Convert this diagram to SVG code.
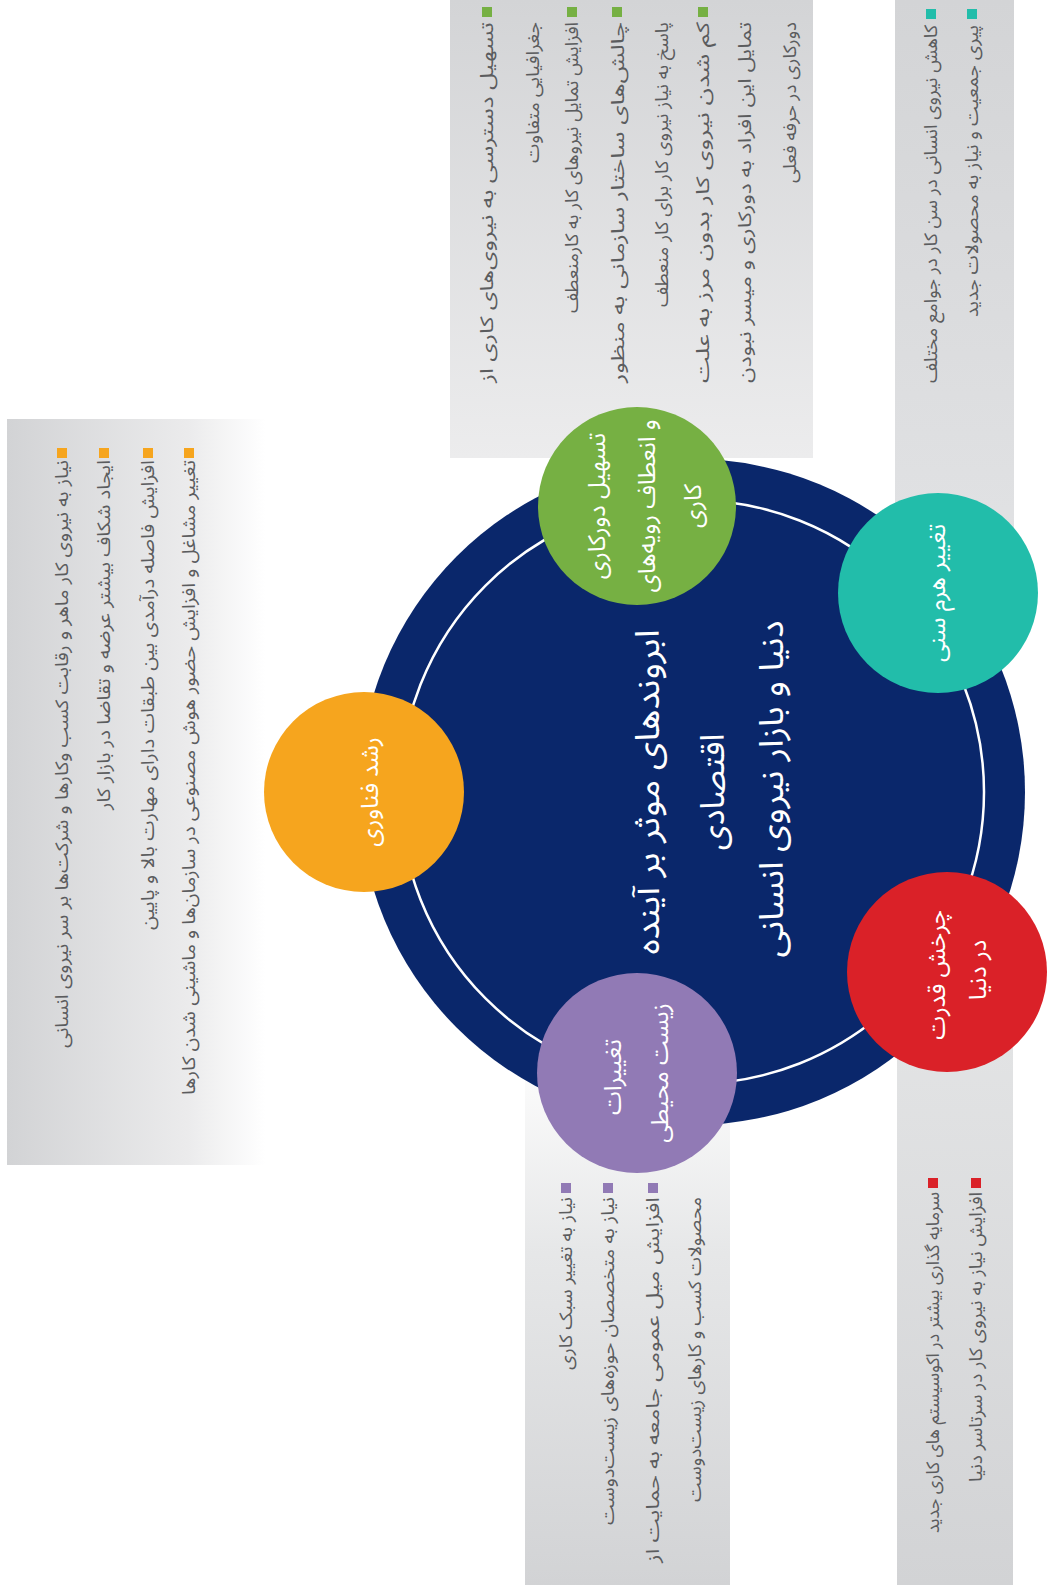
<svg xmlns="http://www.w3.org/2000/svg" width="1047" height="1595" viewBox="0 0 1047 1595">
<defs>
<linearGradient id="gOrange" x1="0" y1="0" x2="1" y2="0"><stop offset="0" stop-color="#d2d3d5"/><stop offset="0.7" stop-color="#ebebec"/><stop offset="1" stop-color="#ffffff"/></linearGradient>
<linearGradient id="gGreen" x1="0" y1="0" x2="0" y2="1"><stop offset="0" stop-color="#d3d4d6"/><stop offset="1" stop-color="#ececed"/></linearGradient>
<linearGradient id="gTeal" x1="0" y1="0" x2="0" y2="1"><stop offset="0" stop-color="#d3d4d6"/><stop offset="1" stop-color="#e2e3e5"/></linearGradient>
<linearGradient id="gPurple" x1="0" y1="0" x2="0" y2="1"><stop offset="0" stop-color="#fbfbfb"/><stop offset="0.35" stop-color="#e6e7e8"/><stop offset="1" stop-color="#d2d3d5"/></linearGradient>
<linearGradient id="gRed" x1="0" y1="0" x2="0" y2="1"><stop offset="0" stop-color="#e4e5e6"/><stop offset="1" stop-color="#d2d3d5"/></linearGradient>
</defs>
<style>
.body{font-family:'Noto Sans Arabic','DejaVu Sans',sans-serif;font-size:18px;fill:#5b5c5e;text-anchor:end}
.lbl{font-family:'Noto Sans Arabic','DejaVu Sans',sans-serif;font-size:24px;fill:#ffffff;text-anchor:middle}
.title{font-family:'Noto Sans Arabic','DejaVu Sans',sans-serif;font-size:33px;fill:#ffffff;text-anchor:middle}
</style>
<rect width="1047" height="1595" fill="#ffffff"/>

<g id="panel-green">
<rect x="450" y="0" width="363" height="458" fill="url(#gGreen)"/>
<g fill="#76b043"><rect x="482" y="7" width="10" height="10"/><rect x="567" y="7" width="10" height="10"/><rect x="612" y="7" width="10" height="10"/><rect x="698" y="7" width="10" height="10"/></g>
<text class="body" x="493" y="22" transform="rotate(-90 493 22)" textLength="361" lengthAdjust="spacingAndGlyphs">تسهیل دسترسی به نیروی‌های کاری از</text>
<text class="body" x="539" y="22" transform="rotate(-90 539 22)" textLength="141" lengthAdjust="spacingAndGlyphs">جغرافیایی متفاوت</text>
<text class="body" x="578" y="22" transform="rotate(-90 578 22)" textLength="291" lengthAdjust="spacingAndGlyphs">افزایش تمایل نیروهای کار به کارمنعطف</text>
<text class="body" x="624" y="22" transform="rotate(-90 624 22)" textLength="361" lengthAdjust="spacingAndGlyphs">چالش‌های ساختار سازمانی به منظور</text>
<text class="body" x="668" y="22" transform="rotate(-90 668 22)" textLength="285" lengthAdjust="spacingAndGlyphs">پاسخ به نیاز نیروی کار برای کار منعطف</text>
<text class="body" x="709" y="22" transform="rotate(-90 709 22)" textLength="361" lengthAdjust="spacingAndGlyphs">کم شدن نیروی کار بدون مرز به علت</text>
<text class="body" x="751" y="22" transform="rotate(-90 751 22)" textLength="361" lengthAdjust="spacingAndGlyphs">تمایل این افراد به دورکاری و میسر نبودن</text>
<text class="body" x="796" y="22" transform="rotate(-90 796 22)" textLength="161" lengthAdjust="spacingAndGlyphs">دورکاری در حرفه فعلی</text>
</g>

<g id="panel-teal">
<rect x="895" y="0" width="119" height="590" fill="url(#gTeal)"/>
<g fill="#22bdaa"><rect x="926" y="9" width="10" height="10"/><rect x="967" y="9" width="10" height="10"/></g>
<text class="body" x="937" y="25" transform="rotate(-90 937 25)" textLength="358" lengthAdjust="spacingAndGlyphs">کاهش نیروی انسانی در سن کار در جوامع مختلف</text>
<text class="body" x="978" y="25" transform="rotate(-90 978 25)" textLength="292" lengthAdjust="spacingAndGlyphs">پیری جمعیت و نیاز به محصولات جدید</text>
</g>

<g id="panel-orange">
<rect x="7" y="419" width="258" height="746" fill="url(#gOrange)"/>
<g fill="#f6a51e"><rect x="57" y="448" width="10" height="10"/><rect x="99" y="448" width="10" height="10"/><rect x="143" y="448" width="10" height="10"/><rect x="184" y="448" width="10" height="10"/></g>
<text class="body" x="68" y="460" transform="rotate(-90 68 460)" textLength="588" lengthAdjust="spacingAndGlyphs">نیاز به نیروی کار ماهر و رقابت کسب وکارها و شرکت‌ها بر سر نیروی انسانی</text>
<text class="body" x="110" y="460" transform="rotate(-90 110 460)" textLength="350" lengthAdjust="spacingAndGlyphs">ایجاد شکاف بیشتر عرضه و تقاضا در بازار کار</text>
<text class="body" x="154" y="460" transform="rotate(-90 154 460)" textLength="470" lengthAdjust="spacingAndGlyphs">افزایش فاصله درآمدی بین طبقات دارای مهارت بالا و پایین</text>
<text class="body" x="195" y="460" transform="rotate(-90 195 460)" textLength="635" lengthAdjust="spacingAndGlyphs">تغییر مشاغل و افزایش حضور هوش مصنوعی در سازمان‌ها و ماشینی شدن کارها</text>
</g>

<g id="panel-purple">
<rect x="525" y="1075" width="205" height="510" fill="url(#gPurple)"/>
<g fill="#917ab5"><rect x="561" y="1183" width="10" height="10"/><rect x="603" y="1183" width="10" height="10"/><rect x="648" y="1183" width="10" height="10"/></g>
<text class="body" x="572" y="1197" transform="rotate(-90 572 1197)" textLength="173" lengthAdjust="spacingAndGlyphs">نیاز به تغییر سبک کاری</text>
<text class="body" x="614" y="1197" transform="rotate(-90 614 1197)" textLength="328" lengthAdjust="spacingAndGlyphs">نیاز به متخصصان حوزه‌های زیست‌دوست</text>
<text class="body" x="659" y="1197" transform="rotate(-90 659 1197)" textLength="366" lengthAdjust="spacingAndGlyphs">افزایش میل عمومی جامعه به حمایت از</text>
<text class="body" x="701" y="1197" transform="rotate(-90 701 1197)" textLength="305" lengthAdjust="spacingAndGlyphs">محصولات کسب و کارهای زیست‌دوست</text>
</g>

<g id="panel-red">
<rect x="897" y="975" width="116" height="610" fill="url(#gRed)"/>
<g fill="#da2128"><rect x="928" y="1178" width="10" height="10"/><rect x="971" y="1178" width="10" height="10"/></g>
<text class="body" x="939" y="1192" transform="rotate(-90 939 1192)" textLength="341" lengthAdjust="spacingAndGlyphs">سرمایه گذاری بیشتر در اکوسیستم های کاری جدید</text>
<text class="body" x="982" y="1192" transform="rotate(-90 982 1192)" textLength="290" lengthAdjust="spacingAndGlyphs">افزایش نیاز به نیروی کار در سرتاسر دنیا</text>
</g>

<g id="node-center">
<circle cx="692" cy="792" r="333" fill="#0a276b"/>
<circle cx="692" cy="792" r="292" fill="none" stroke="#ffffff" stroke-width="2.5"/>
<text class="title" x="659" y="792" transform="rotate(-90 659 792)" textLength="325" lengthAdjust="spacingAndGlyphs">ابروندهای موثر بر آینده</text>
<text class="title" x="724" y="792" transform="rotate(-90 724 792)">اقتصادی</text>
<text class="title" x="783" y="789" transform="rotate(-90 783 789)" textLength="337" lengthAdjust="spacingAndGlyphs">دنیا و بازار نیروی انسانی</text>
</g>

<g id="node-green">
<circle cx="637" cy="506" r="99" fill="#76b043"/>
<text class="lbl" x="605" y="506" transform="rotate(-90 605 506)">تسهیل دورکاری</text>
<text class="lbl" x="655" y="506" transform="rotate(-90 655 506)">و انعطاف رویه‌های</text>
<text class="lbl" x="701" y="506" transform="rotate(-90 701 506)">کاری</text>
</g>

<g id="node-teal">
<circle cx="938" cy="593" r="100" fill="#22bdaa"/>
<text class="lbl" x="945" y="593" transform="rotate(-90 945 593)">تغییر هرم سنی</text>
</g>

<g id="node-red">
<circle cx="947" cy="972" r="100" fill="#da2128"/>
<text class="lbl" x="945" y="975" transform="rotate(-90 945 975)">چرخش قدرت</text>
<text class="lbl" x="986" y="970" transform="rotate(-90 986 970)">در دنیا</text>
</g>

<g id="node-purple">
<circle cx="637" cy="1073" r="100" fill="#917ab5"/>
<text class="lbl" x="621" y="1077" transform="rotate(-90 621 1077)">تغییرات</text>
<text class="lbl" x="668" y="1073" transform="rotate(-90 668 1073)">زیست محیطی</text>
</g>

<g id="node-orange">
<circle cx="364" cy="792" r="100" fill="#f6a51e"/>
<text class="lbl" x="378" y="792" transform="rotate(-90 378 792)">رشد فناوری</text>
</g>
</svg>
